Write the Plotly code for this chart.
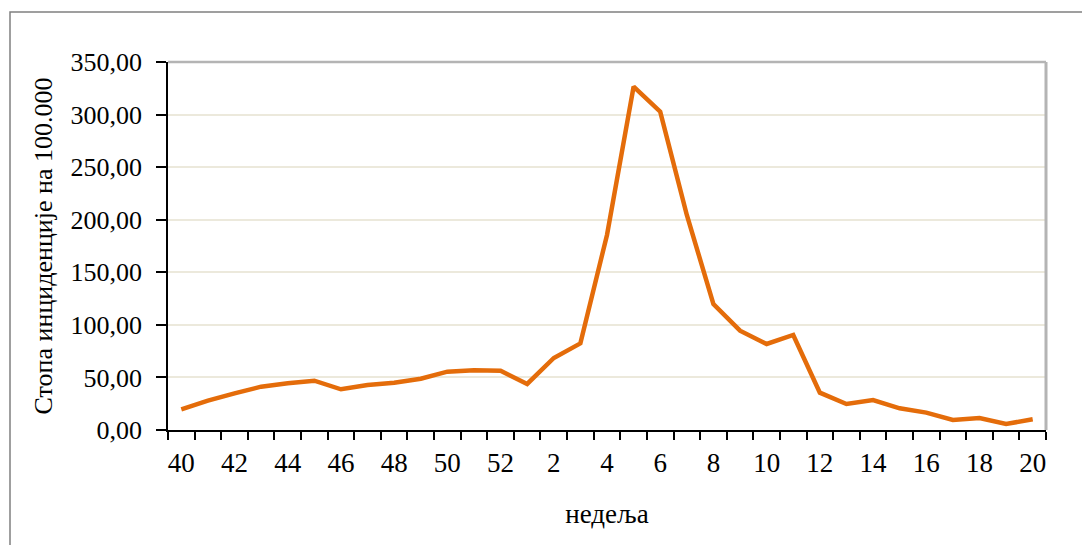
import plotly.graph_objects as go

weeks = [str(w) for w in range(40, 53)] + [str(w) for w in range(1, 21)]
rates = [19.7, 27.9, 34.9, 41.2, 44.4, 46.9, 38.7, 42.8, 45.0, 48.8, 55.5, 56.8, 56.4,
         43.8, 68.5, 82.4, 185.5, 326.5, 302.7, 204.5, 119.8, 94.5, 81.8, 90.4,
         35.5, 24.7, 28.5, 20.6, 16.5, 9.5, 11.4, 5.7, 10.2]
y_ticks = [0, 50, 100, 150, 200, 250, 300, 350]
x_label = "недеља"
y_label = "Стопа инциденције на 100.000"

xs = list(range(len(weeks)))
label_idx = xs[::2]

font = "Liberation Serif"

fig = go.Figure()
fig.add_trace(go.Scatter(x=xs, y=rates, mode="lines",
                         line=dict(color="#E46C0A", width=4.5), showlegend=False))

fig.update_layout(
    width=1082, height=545,
    margin=dict(l=168, r=36, t=62, b=115),
    paper_bgcolor="white", plot_bgcolor="white",
    separators=",.",
    font=dict(family=font, size=26, color="black"),
    xaxis=dict(
        range=[-0.5, len(weeks) - 0.5],
        tickmode="array", tickvals=label_idx, ticktext=[weeks[i] for i in label_idx],
        ticks="", showgrid=False, zeroline=False,
        showline=True, linecolor="black", linewidth=1.5,
        tickfont=dict(family=font, size=27), ticklabelstandoff=8,
        minor=dict(ticks="outside", tick0=0.5, dtick=1, ticklen=8, tickcolor="black",
                   tickwidth=1.5, showgrid=False),
        title=dict(text=x_label, font=dict(family=font, size=27), standoff=27),
    ),
    yaxis=dict(
        range=[0, 350], tickmode="array", tickvals=y_ticks, tickformat=".2f",
        ticks="outside", ticklen=10, tickcolor="black", tickwidth=1.5,
        showline=True, linecolor="black", linewidth=1.5,
        showgrid=True, gridcolor="#ECE9DC", gridwidth=1.5, zeroline=False,
        tickfont=dict(family=font, size=26), ticklabelstandoff=9,
        title=dict(text=y_label, font=dict(family=font, size=26), standoff=10),
    ),
    shapes=[
        dict(type="line", xref="paper", yref="paper", x0=0, x1=1, y0=1, y1=1,
             line=dict(color="#B4B4B4", width=2.5)),
        dict(type="line", xref="paper", yref="paper", x0=1, x1=1, y0=0, y1=1,
             line=dict(color="#B4B4B4", width=3)),
        dict(type="rect", xref="paper", yref="paper",
             x0=(10 - 168) / 878, x1=(1090 - 168) / 878,
             y0=-(560 - 430) / 368, y1=(430 - 12) / 368,
             line=dict(color="#808080", width=1.5)),
    ],
)

fig.write_html("out.html")
